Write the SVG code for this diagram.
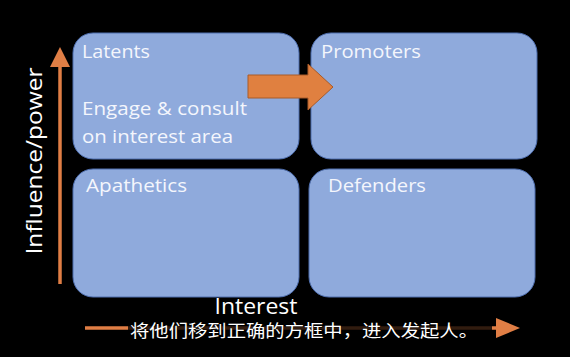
<svg xmlns="http://www.w3.org/2000/svg" width="570" height="357" viewBox="0 0 570 357">
  <style>
    .quad { fill: #8FAADC; stroke: #4E6EAE; stroke-width: 1; }
    .qlabel { font-family: "Open Sans", "Liberation Sans", sans-serif; font-size: 18px; fill: #F4F6FC; }
    .axis { font-family: "Open Sans", "Liberation Sans", sans-serif; font-size: 21px; fill: #FFFFFF; }
    .axisline { stroke: #E07E45; stroke-width: 3.5; fill: none; }
    .head { fill: #E07E45; }
    .sub { font-family: "Noto Sans CJK SC", "Noto Sans", sans-serif; font-size: 17px; fill: #FFFFFF; stroke: #000000; stroke-width: 0.7; paint-order: stroke; }
  </style>
  <rect x="0" y="0" width="570" height="357" fill="#000000"/>

  <!-- quadrants -->
  <g id="latents">
    <rect class="quad" x="73" y="33" width="226" height="126" rx="20"/>
    <text class="qlabel" x="82" y="58" textLength="68" lengthAdjust="spacingAndGlyphs">Latents</text>
    <text class="qlabel" x="82" y="115" textLength="165" lengthAdjust="spacingAndGlyphs">Engage &amp; consult</text>
    <text class="qlabel" x="82" y="143" textLength="151" lengthAdjust="spacingAndGlyphs">on interest area</text>
  </g>
  <g id="promoters">
    <rect class="quad" x="311" y="33" width="226" height="126" rx="20"/>
    <text class="qlabel" x="321" y="58" textLength="100" lengthAdjust="spacingAndGlyphs">Promoters</text>
  </g>
  <g id="apathetics">
    <rect class="quad" x="73" y="169" width="226" height="128" rx="20"/>
    <text class="qlabel" x="86" y="192" textLength="101" lengthAdjust="spacingAndGlyphs">Apathetics</text>
  </g>
  <g id="defenders">
    <rect class="quad" x="309" y="169" width="226" height="128" rx="20"/>
    <text class="qlabel" x="328" y="192" textLength="98" lengthAdjust="spacingAndGlyphs">Defenders</text>
  </g>

  <!-- connectors: axes and move arrow -->
  <g id="connectors">
    <line class="axisline" x1="60" y1="284" x2="60" y2="64"/>
    <polygon class="head" points="60,47 50,67 70,67"/>
    <line class="axisline" x1="85" y1="328" x2="497" y2="328"/>
    <polygon class="head" points="520,328 496,318 496,338"/>
    <polygon fill="#E08040" stroke="#A85A28" stroke-width="1" points="248,75 308,75 308,64 333,87 308,110 308,98 248,98"/>
  </g>

  <!-- axis titles -->
  <text class="axis" transform="translate(42,161) rotate(-90)" text-anchor="middle" textLength="187" lengthAdjust="spacingAndGlyphs">Influence/power</text>
  <text class="axis" x="256" y="314" text-anchor="middle" font-size="19" textLength="83" lengthAdjust="spacingAndGlyphs">Interest</text>

  <!-- subtitle with its dark backing band -->
  <rect x="128" y="319" width="364" height="21" fill="#000000" opacity="0.78"/>
  <text class="sub" x="130" y="337" textLength="348" lengthAdjust="spacingAndGlyphs">将他们移到正确的方框中，进入发起人。</text>
</svg>
